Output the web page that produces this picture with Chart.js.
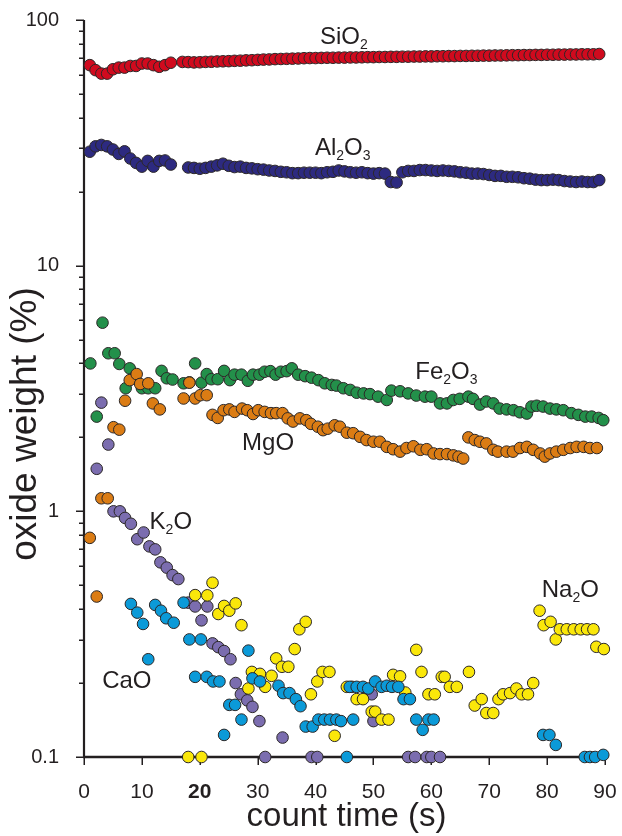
<!DOCTYPE html>
<html>
<head>
<meta charset="utf-8">
<title>oxide weight vs count time</title>
<script src="https://cdn.jsdelivr.net/npm/chart.js@4.4.1/dist/chart.umd.min.js"></script>
<style>
  html, body { margin: 0; padding: 0; background: #fff; }
  #wrap { width: 622px; height: 836px; }
</style>
</head>
<body>
<div id="wrap"><canvas id="oxide-chart" width="622" height="836"></canvas></div>
<script>
// axes
const xTickValues = [0, 10, 20, 30, 40, 50, 60, 70, 80, 90];
const yTickValues = [0.1, 0.2, 0.3, 0.4, 0.5, 0.6, 0.7, 0.8, 0.9,
                     1, 2, 3, 4, 5, 6, 7, 8, 9,
                     10, 20, 30, 40, 50, 60, 70, 80, 90, 100];
const yTickLabels = ['0.1', '1', '10', '100'];

// SiO2
const sio2Time = [1,2,3,4,5,6,7,8,9,10,11,12,13,14,15,17,18,19,20,21,22,23,24,25,26,27,28,29,30,
  31,32,33,34,35,36,37,38,39,40,41,42,43,44,45,46,47,48,49,50,51,52,53,54,55,56,57,58,59,60,
  61,62,63,64,65,66,67,68,69,70,71,72,73,74,75,76,77,78,79,80,81,82,83,84,85,86,87,88,89];
const sio2Value = [65.5,62.5,60.5,60.5,63.0,64.0,64.0,65.0,65.0,66.5,66.5,65.5,64.5,65.5,67.0,
  67.5,67.4,67.2,67.3,67.5,67.6,67.8,67.9,68.0,68.2,68.3,68.5,68.6,68.8,69.0,69.1,69.3,69.4,69.5,
  69.6,69.7,69.9,70.0,70.0,70.1,70.2,70.2,70.3,70.3,70.4,70.4,70.5,70.6,70.6,70.7,70.7,70.8,70.8,
  70.9,70.9,71.0,71.0,71.1,71.1,71.2,71.2,71.3,71.3,71.4,71.4,71.5,71.5,71.6,71.6,71.7,71.7,71.8,
  71.9,71.9,72.0,72.0,72.1,72.1,72.2,72.2,72.3,72.3,72.4,72.4,72.5,72.5,72.5,72.7];

// Al2O3
const al2o3Time = [1,2,3,4,5,6,7,8,9,10,11,12,13,14,15,18,19,20,21,22,23,24,25,26,27,28,29,30,
  31,32,33,34,35,36,37,38,39,40,41,42,43,44,45,46,47,48,49,50,51,52,53,54,55,56,57,58,59,60,
  61,62,63,64,65,66,67,68,69,70,71,72,73,74,75,76,77,78,79,80,81,82,83,84,85,86,87,88,89];
const al2o3Value = [29.1,30.6,31.0,30.6,29.7,28.5,29.2,27.3,26.2,25.3,26.7,25.3,26.7,26.8,25.8,
  25.1,25.0,24.8,25.0,25.3,25.6,26.0,25.5,25.2,25.3,25.0,24.9,24.7,24.6,24.4,24.3,24.1,24.0,23.8,
  23.8,23.9,23.9,23.9,23.8,24.0,24.1,24.4,24.2,24.0,23.9,24.0,23.8,23.7,23.8,23.7,21.9,21.8,24.0,
  24.3,24.3,24.5,24.5,24.4,24.3,24.4,24.3,24.2,24.0,23.9,23.7,23.7,23.6,23.4,23.2,23.2,23.0,23.0,
  22.9,22.7,22.6,22.4,22.3,22.3,22.4,22.3,22.1,22.0,21.9,22.0,21.9,21.9,22.3];

// Fe2O3
const fe2o3Time = [1.1,2.2,3.2,4.2,5.3,6.1,7.2,7.9,8.8,10.0,11.1,12.3,13.4,14.3,15.3,17.2,18.2,
  19.2,20.3,21.2,22.0,23.1,24.2,25.2,26.0,27.2,28.3,29.2,30.3,31.2,32.2,33.1,34.0,35.0,35.9,37.0,
  38.2,39.3,40.5,41.6,42.8,43.6,44.8,46.0,47.1,48.3,49.4,50.8,52.3,53.1,54.6,56.0,57.4,58.9,60.0,
  61.5,62.7,63.8,64.9,66.4,67.2,68.4,69.5,70.7,71.8,73.0,74.2,75.3,76.5,77.3,78.2,79.3,80.5,81.6,
  82.8,84.2,85.4,86.6,87.7,88.9,89.7];
const fe2o3Value = [4.0,2.43,5.86,4.4,4.4,3.98,3.17,3.82,3.53,3.17,3.17,3.17,3.73,3.48,3.44,3.32,
  3.35,4.0,3.34,3.62,3.45,3.45,3.73,3.42,3.6,3.6,3.4,3.6,3.6,3.7,3.72,3.6,3.7,3.72,3.82,3.6,3.55,
  3.5,3.42,3.32,3.27,3.25,3.17,3.12,3.04,3.02,3.0,2.93,2.84,3.1,3.08,3.02,2.96,2.93,2.93,2.75,2.75,
  2.84,2.87,2.93,2.87,2.72,2.8,2.75,2.62,2.6,2.58,2.53,2.5,2.67,2.69,2.67,2.62,2.6,2.58,2.51,2.47,
  2.43,2.43,2.4,2.35];

// MgO
const mgoTime = [1.0,2.2,3.0,4.1,5.1,6.1,7.1,7.9,9.1,9.7,11.1,11.9,13.1,17.2,18.2,19.2,20.1,21.2,
  22.2,23.1,24.1,25.1,26.0,27.3,28.2,29.2,30.1,31.2,32.3,33.2,34.3,35.2,36.1,37.3,38.4,39.2,40.4,
  41.3,42.1,43.3,44.2,45.4,46.5,47.7,48.8,50.0,51.1,52.3,53.4,54.6,55.7,56.9,58.1,59.2,60.4,61.5,
  62.7,63.8,64.7,65.5,66.4,67.5,68.4,69.5,70.7,71.5,73.0,74.1,75.3,76.5,77.6,78.8,79.6,80.5,81.6,
  82.8,84.0,85.1,86.3,87.4,88.6];
const mgoValue = [0.78,0.45,1.13,1.13,2.2,2.15,2.82,3.42,3.62,3.3,3.32,2.75,2.6,2.88,3.34,2.88,
  2.97,2.97,2.47,2.4,2.58,2.6,2.54,2.62,2.58,2.49,2.58,2.54,2.51,2.51,2.51,2.39,2.32,2.39,2.35,
  2.27,2.21,2.14,2.17,2.24,2.21,2.09,2.08,2.01,1.95,1.92,1.92,1.83,1.79,1.75,1.81,1.84,1.78,1.79,
  1.72,1.71,1.71,1.69,1.67,1.64,2.0,1.95,1.92,1.89,1.78,1.75,1.75,1.75,1.81,1.83,1.78,1.72,1.67,
  1.72,1.75,1.78,1.81,1.83,1.83,1.81,1.81];

// K2O
const k2oTime = [2.2,3.0,4.2,5.1,6.2,7.1,8.1,9.2,10.3,11.3,12.3,13.2,14.3,15.3,16.3,18.0,19.2,
  20.3,21.3,22.2,23.2,24.2,25.3,26.2,27.1,28.2,29.1,30.3,31.3,34.3,39.3,40.3,49.7,50.0,56.0,57.2,
  59.2,60.0,61.5];
const k2oValue = [1.49,2.77,1.87,1.0,1.0,0.94,0.89,0.77,0.82,0.72,0.70,0.62,0.59,0.55,0.53,0.425,
  0.41,0.36,0.41,0.29,0.28,0.27,0.25,0.20,0.18,0.17,0.16,0.14,0.1,0.12,0.1,0.1,0.18,0.14,0.1,0.1,
  0.1,0.1,0.1];

// CaO
const caoTime = [8.1,9.2,10.2,11.1,12.3,13.3,14.2,15.5,17.2,18.2,19.2,20.2,21.2,22.3,23.4,24.2,
  25.1,26.1,27.2,28.4,29.1,30.4,33.6,34.4,35.5,36.6,37.4,38.3,39.5,40.5,41.5,42.5,43.6,44.4,45.4,
  45.9,46.5,47.1,48.2,49.1,50.3,51.4,52.3,53.2,54.3,55.2,56.3,57.4,58.5,59.5,60.4,79.3,80.4,81.5,
  86.5,87.4,88.3,89.7];
const caoValue = [0.42,0.387,0.348,0.25,0.416,0.394,0.367,0.352,0.425,0.301,0.212,0.301,0.212,
  0.203,0.203,0.123,0.163,0.163,0.142,0.271,0.209,0.203,0.195,0.182,0.182,0.172,0.161,0.133,0.133,
  0.142,0.142,0.142,0.142,0.14,0.1,0.193,0.142,0.193,0.193,0.19,0.203,0.193,0.195,0.193,0.193,
  0.172,0.172,0.142,0.129,0.142,0.142,0.123,0.123,0.112,0.1,0.1,0.1,0.102];

// Na2O
const na2oTime = [18.0,19.2,20.3,21.3,22.2,23.2,24.2,25.1,26.2,27.2,28.4,29.0,30.4,31.3,32.4,
  33.2,34.2,35.3,36.4,37.2,38.3,39.2,40.3,41.2,42.4,43.3,45.4,46.3,47.1,48.2,49.7,50.3,51.4,52.6,
  53.4,54.6,55.5,57.4,58.3,59.5,60.6,61.8,62.3,63.2,64.4,66.5,67.5,68.7,69.5,70.7,71.6,72.4,73.6,
  74.7,75.6,76.7,77.6,78.7,79.4,80.6,81.5,82.2,83.4,84.6,85.8,86.9,88.0,88.5,89.8];
const na2oValue = [0.1,0.456,0.1,0.455,0.512,0.382,0.412,0.394,0.422,0.344,0.19,0.222,0.218,
  0.193,0.214,0.252,0.233,0.233,0.275,0.331,0.355,0.18,0.203,0.222,0.222,0.122,0.193,0.193,0.172,
  0.172,0.153,0.153,0.142,0.142,0.216,0.213,0.183,0.273,0.222,0.18,0.18,0.212,0.212,0.193,0.193,
  0.222,0.162,0.172,0.151,0.151,0.172,0.18,0.182,0.19,0.18,0.18,0.2,0.394,0.344,0.355,0.301,0.331,
  0.331,0.331,0.331,0.331,0.331,0.281,0.275];

// in-plot labels (time, oxide weight of the label centre)
const labelText = ['SiO2', 'Al2O3', 'Fe2O3', 'MgO', 'K2O', 'CaO', 'Na2O'];
const labelTime = [44.9, 44.7, 62.6, 31.8, 15.0, 7.4, 84.0];
const labelValue = [86.8, 30.7, 3.76, 1.92, 0.917, 0.207, 0.486];

const ink = '#231f20';
const fontFamily = "'Liberation Sans', Arial, Helvetica, sans-serif";

function pairs(times, values) {
  return times.map((t, i) => ({x: t, y: values[i]}));
}

function makeSeries(label, times, values, color, order) {
  return {
    label: label,
    data: pairs(times, values),
    backgroundColor: color,
    borderColor: '#2b2727',
    borderWidth: 1,
    pointRadius: 5.8,
    order: order,
    clip: false
  };
}

// lower order is drawn on top
const datasets = [
  makeSeries('SiO2', sio2Time, sio2Value, '#d00a1e', 7),
  makeSeries('Al2O3', al2o3Time, al2o3Value, '#2d2a80', 6),
  makeSeries('Fe2O3', fe2o3Time, fe2o3Value, '#23904a', 5),
  makeSeries('MgO', mgoTime, mgoValue, '#db7c14', 4),
  makeSeries('K2O', k2oTime, k2oValue, '#7b6daf', 3),
  makeSeries('Na2O', na2oTime, na2oValue, '#fae70a', 2),
  makeSeries('CaO', caoTime, caoValue, '#0b9ad8', 1)
];

// keep the plot box fixed: no extra room for tick label overhang
function noOverhang(scale) {
  scale.paddingTop = 0;
  scale.paddingBottom = 0;
  scale.paddingLeft = 0;
  scale.paddingRight = 0;
}

// axis lines and tick marks, under the points
const axisFrame = {
  id: 'axisFrame',
  beforeDatasetsDraw(chart) {
    const {ctx, chartArea, scales} = chart;
    const left = chartArea.left;
    const bottom = chartArea.bottom;
    ctx.save();
    ctx.strokeStyle = ink;
    ctx.lineWidth = 1.5;
    ctx.beginPath();
    yTickValues.forEach(v => {
      const py = Math.round(scales.y.getPixelForValue(v)) + 0.25;
      const len = yTickLabels.includes(String(v)) ? 8 : 5;
      ctx.moveTo(left - len, py);
      ctx.lineTo(left, py);
    });
    xTickValues.forEach(v => {
      const px = Math.round(scales.x.getPixelForValue(v)) + 0.25;
      ctx.moveTo(px, bottom);
      ctx.lineTo(px, bottom + 8);
    });
    ctx.stroke();

    ctx.lineWidth = 2.2;
    ctx.beginPath();
    ctx.moveTo(left, scales.y.getPixelForValue(100));
    ctx.lineTo(left, bottom + 1);
    ctx.stroke();
    ctx.lineWidth = 2.6;
    ctx.beginPath();
    ctx.moveTo(left - 1, bottom);
    ctx.lineTo(scales.x.getPixelForValue(90) + 1, bottom);
    ctx.stroke();

    // axis titles
    ctx.fillStyle = ink;
    ctx.textAlign = 'center';
    ctx.textBaseline = 'middle';
    ctx.font = '33px ' + fontFamily;
    ctx.fillText('count time (s)', (chartArea.left + chartArea.right) / 2 + 2, 817);
    ctx.font = '37px ' + fontFamily;
    ctx.translate(26, 424);
    ctx.rotate(-Math.PI / 2);
    ctx.fillText('oxide weight (%)', 0, 0);
    ctx.restore();
  }
};

// oxide names with subscript digits
function drawFormula(ctx, text, cx, cy) {
  const parts = text.match(/[A-Za-z]+|\d+/g);
  const big = 24, small = 14;
  let width = 0;
  const widths = parts.map(p => {
    ctx.font = (/\d/.test(p) ? small : big) + 'px ' + fontFamily;
    const w = ctx.measureText(p).width;
    width += w;
    return w;
  });
  let x = cx - width / 2;
  const base = cy + big * 0.36;
  parts.forEach((p, i) => {
    const sub = /\d/.test(p);
    ctx.font = (sub ? small : big) + 'px ' + fontFamily;
    ctx.fillText(p, x, sub ? base + 5 : base);
    x += widths[i];
  });
}

const oxideLabels = {
  id: 'oxideLabels',
  afterDatasetsDraw(chart) {
    const {ctx, scales} = chart;
    ctx.save();
    ctx.fillStyle = ink;
    ctx.textAlign = 'left';
    ctx.textBaseline = 'alphabetic';
    labelText.forEach((t, i) => {
      drawFormula(ctx, t, scales.x.getPixelForValue(labelTime[i]), scales.y.getPixelForValue(labelValue[i]));
    });
    ctx.restore();
  }
};

const ctx = document.getElementById('oxide-chart').getContext('2d');
const oxideChart = new Chart(ctx, {
  type: 'scatter',
  data: {datasets: datasets},
  options: {
    responsive: false,
    animation: false,
    layout: {padding: {top: 20, right: 17, left: 0, bottom: 0}},
    plugins: {
      legend: {display: false},
      tooltip: {enabled: false}
    },
    scales: {
      x: {
        type: 'linear',
        min: 0,
        max: 90,
        afterBuildTicks: scale => { scale.ticks = xTickValues.map(v => ({value: v})); },
        afterFit: scale => { scale.height = 79; noOverhang(scale); },
        grid: {display: false},
        border: {display: false},
        ticks: {
          color: ink,
          padding: 15,
          maxRotation: 0,
          autoSkip: false,
          font: c => ({family: fontFamily, size: 21, weight: c.tick && c.tick.value === 20 ? 'bold' : 'normal'})
        }
      },
      y: {
        type: 'logarithmic',
        min: 0.1,
        max: 100,
        afterBuildTicks: scale => { scale.ticks = yTickValues.map(v => ({value: v})); },
        afterFit: scale => { scale.width = 84; noOverhang(scale); },
        grid: {display: false},
        border: {display: false},
        ticks: {
          color: ink,
          padding: 17,
          autoSkip: false,
          font: {family: fontFamily, size: 20},
          callback: v => yTickLabels.includes(String(v)) ? String(v) : ''
        }
      }
    }
  },
  plugins: [axisFrame, oxideLabels]
});
</script>
</body>
</html>
